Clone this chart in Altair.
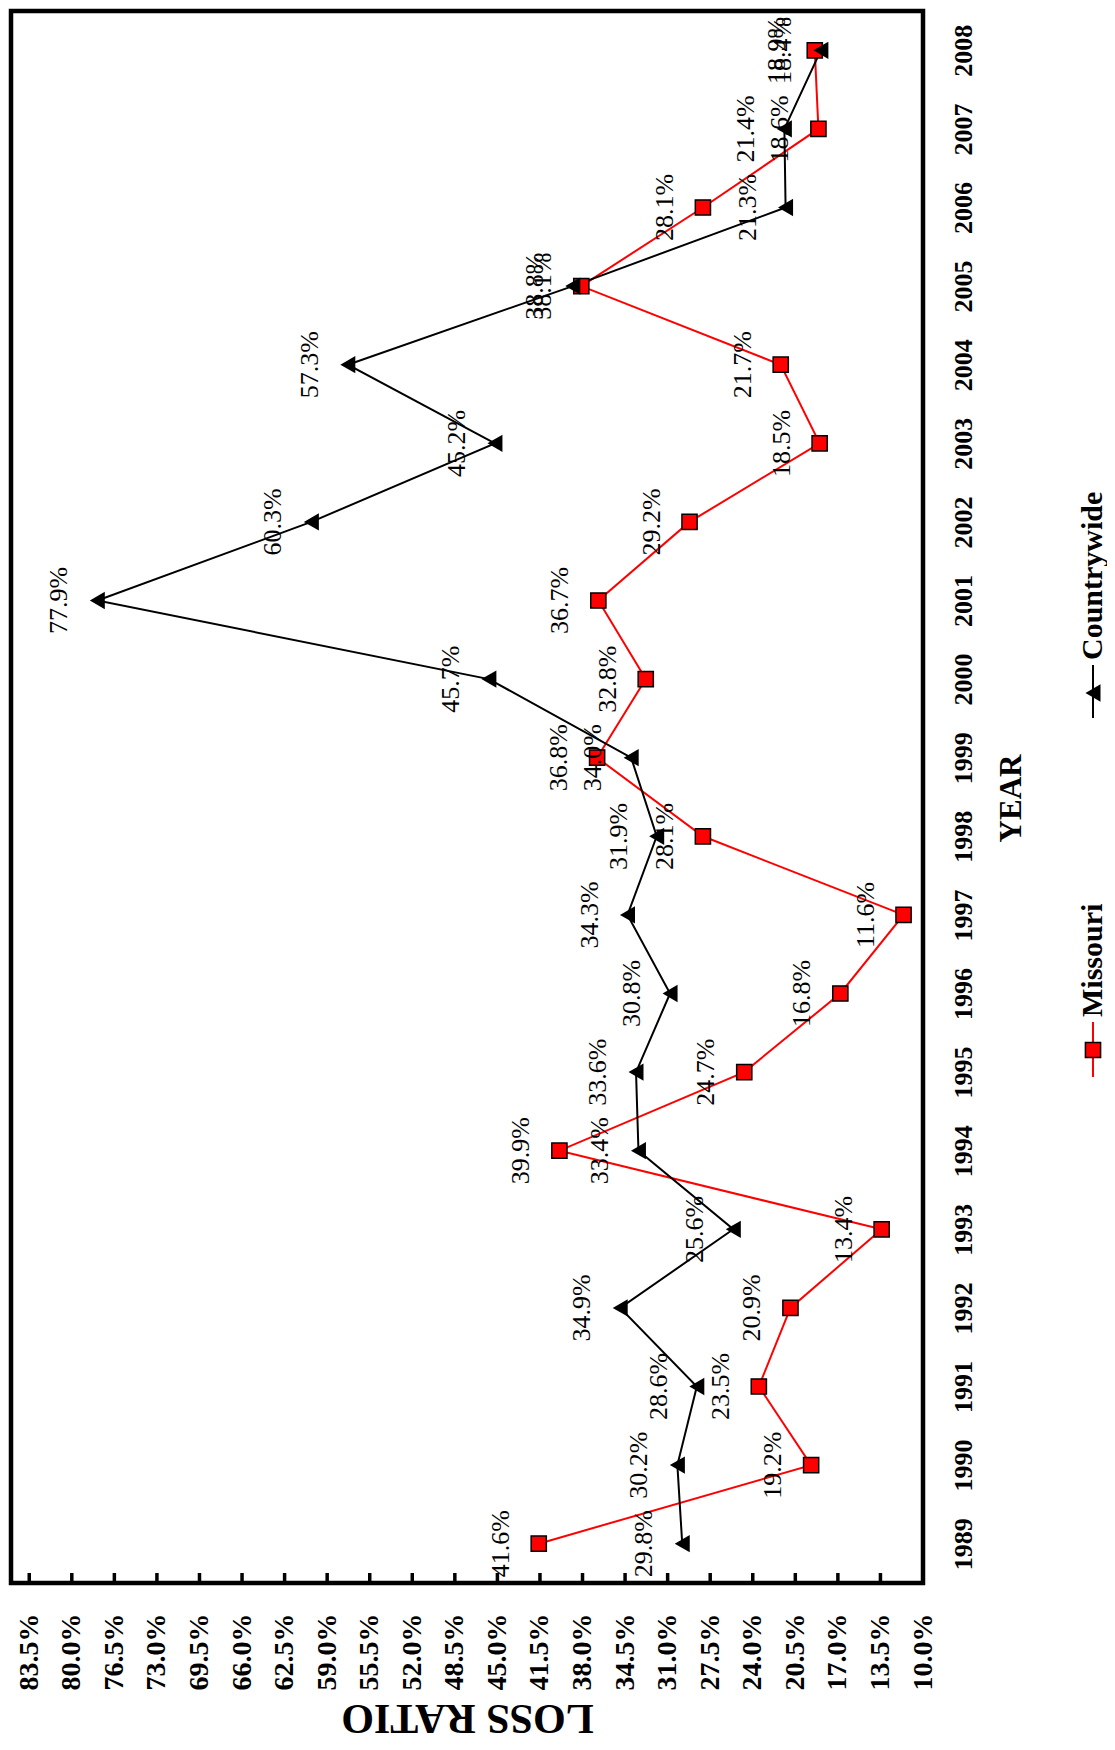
import altair as alt
import pandas as pd

# ---------------- data ----------------
years = list(range(1989, 2009))
missouri = [41.6, 19.2, 23.5, 20.9, 13.4, 39.9, 24.7, 16.8, 11.6, 28.1,
            36.8, 32.8, 36.7, 29.2, 18.5, 21.7, 38.1, 28.1, 18.6, 18.9]
countrywide = [29.8, 30.2, 28.6, 34.9, 25.6, 33.4, 33.6, 30.8, 34.3, 31.9,
               34.0, 45.7, 77.9, 60.3, 45.2, 57.3, 38.8, 21.3, 21.4, 18.4]
series_names = ["Missouri", "Countrywide"]
ratio_ticks = [10.0, 13.5, 17.0, 20.5, 24.0, 27.5, 31.0, 34.5, 38.0, 41.5, 45.0,
               48.5, 52.0, 55.5, 59.0, 62.5, 66.0, 69.5, 73.0, 76.5, 80.0, 83.5]

rows = []
for name, vals in zip(series_names, [missouri, countrywide]):
    for yr, v in zip(years, vals):
        rows.append({"series": name, "year": yr, "ratio": v, "label": f"{v:.1f}%"})
df = pd.DataFrame(rows)
ticks_df = pd.DataFrame({"ratio": ratio_ticks})
legend_df = pd.DataFrame({"series": series_names})

# ---------------- layout ----------------
W, H = 912, 1572
SERIF = "Liberation Serif"
RED = "#ff0000"

x_enc = alt.X(
    "ratio:Q",
    scale=alt.Scale(domain=[10, 85], reverse=True, nice=False, zero=False),
    axis=alt.Axis(
        orient="bottom", values=ratio_ticks,
        labelExpr="format(datum.value, '.1f') + '%'",
        labelAngle=270, labelAlign="right", labelBaseline="middle",
        labelPadding=30, labelFont=SERIF, labelFontSize=28,
        labelFontWeight="bold", labelColor="black",
        labelFlush=False, labelOverlap=False, labelBound=False,
        domain=False, ticks=False, tickSize=0, grid=False,
        title="LOSS RATIO", titleFont=SERIF, titleFontSize=42,
        titleFontWeight="bold", titleColor="black", titleAngle=180,
        titleAlign="center", titleBaseline="middle",
        titleX=W / 2, titleY=134,
    ),
)

y_enc = alt.Y(
    "year:Q",
    scale=alt.Scale(domain=[1988.5, 2008.5], nice=False, zero=False),
    axis=alt.Axis(
        orient="right", values=years, format="d",
        labelAngle=270, labelAlign="center", labelBaseline="top",
        labelPadding=27, labelFont=SERIF, labelFontSize=26,
        labelFontWeight="bold", labelColor="black",
        labelFlush=False, labelOverlap=False, labelBound=False,
        domain=False, ticks=False, tickSize=0, grid=False,
        title="YEAR", titleFont=SERIF, titleFontSize=31,
        titleFontWeight="bold", titleColor="black", titleAngle=270,
        titleAlign="center", titleBaseline="middle",
        titleX=88, titleY=787,
    ),
)

base = alt.Chart(df)

lines = base.mark_line(strokeWidth=2).encode(
    x=x_enc, y=y_enc,
    color=alt.Color("series:N", scale=alt.Scale(domain=series_names, range=[RED, "black"]), legend=None),
    order=alt.Order("year:Q"),
)

pts_m = base.transform_filter(alt.datum.series == "Missouri").mark_point(
    shape="square", filled=True, fill=RED, stroke="black", strokeWidth=1.5,
    size=230, opacity=1,
).encode(x=x_enc, y=y_enc)

pts_c = base.transform_filter(alt.datum.series == "Countrywide").mark_point(
    shape="triangle-left", filled=True, color="black", size=300, opacity=1,
).encode(x=x_enc, y=y_enc)

labels = base.mark_text(
    angle=270, align="center", baseline="middle", dy=-38,
    font=SERIF, fontSize=26, color="black",
).encode(x=x_enc, y=y_enc, text="label:N")

ticks = alt.Chart(ticks_df).mark_rule(color="black", strokeWidth=3.5).encode(
    x=x_enc, y=alt.value(H), y2=alt.value(H - 10),
)

# ---------------- legend (rotated, drawn by hand) ----------------
LX = 1082
leg_m_line = alt.Chart(legend_df).transform_filter(alt.datum.series == "Missouri").mark_rule(
    color=RED, strokeWidth=2).encode(x=alt.value(LX), y=alt.value(1011), y2=alt.value(1066))
leg_m_pt = alt.Chart(legend_df).transform_filter(alt.datum.series == "Missouri").mark_point(
    shape="square", filled=True, fill=RED, stroke="black", strokeWidth=1.5, size=230, opacity=1
).encode(x=alt.value(LX), y=alt.value(1039))
leg_m_txt = alt.Chart(legend_df).transform_filter(alt.datum.series == "Missouri").mark_text(
    angle=270, align="left", baseline="middle", font=SERIF, fontSize=30,
    fontWeight="bold", color="black").encode(x=alt.value(LX), y=alt.value(1006), text="series:N")

leg_c_line = alt.Chart(legend_df).transform_filter(alt.datum.series == "Countrywide").mark_rule(
    color="black", strokeWidth=2).encode(x=alt.value(LX), y=alt.value(654), y2=alt.value(707))
leg_c_pt = alt.Chart(legend_df).transform_filter(alt.datum.series == "Countrywide").mark_point(
    shape="triangle-left", filled=True, color="black", size=300, opacity=1
).encode(x=alt.value(LX), y=alt.value(682))
leg_c_txt = alt.Chart(legend_df).transform_filter(alt.datum.series == "Countrywide").mark_text(
    angle=270, align="left", baseline="middle", font=SERIF, fontSize=30,
    fontWeight="bold", color="black").encode(x=alt.value(LX), y=alt.value(649), text="series:N")

chart = alt.layer(
    ticks, lines, pts_m, pts_c, labels,
    leg_m_line, leg_m_pt, leg_m_txt, leg_c_line, leg_c_pt, leg_c_txt,
).properties(
    width=W, height=H,
    autosize=alt.AutoSizeParams(type="none"),
    padding={"left": 3, "top": 3, "right": 184, "bottom": 159},
    background="white",
).configure_view(stroke="black", strokeWidth=4.5)

chart.save("out.html", embed_options={"renderer": "svg", "actions": False})
